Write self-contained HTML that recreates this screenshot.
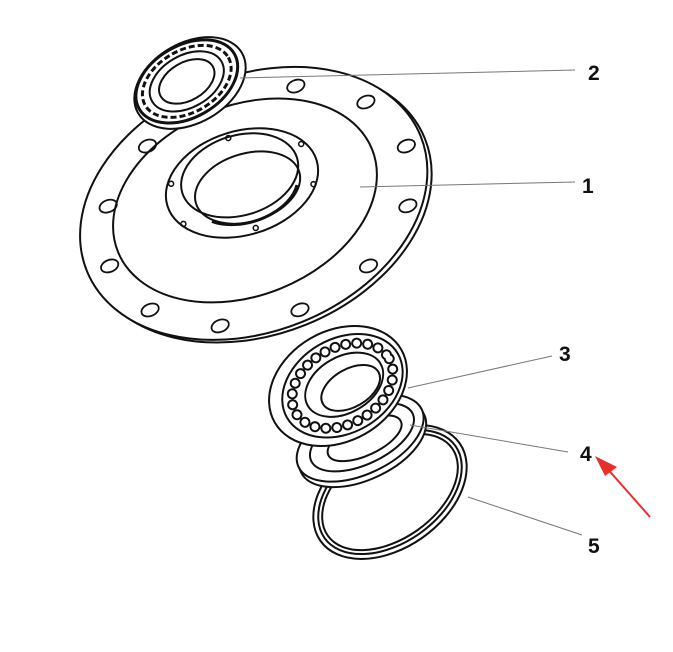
<!DOCTYPE html>
<html><head><style>
html,body{margin:0;padding:0;background:#fff;}
svg{display:block;}
text{font-family:"Liberation Sans",sans-serif;font-weight:bold;font-size:21px;fill:#111;}
</style></head><body>
<svg width="673" height="652" viewBox="0 0 673 652" xmlns="http://www.w3.org/2000/svg">
<g fill="none" stroke="#111" stroke-width="2">
 <!-- flange -->
 <g transform="translate(258,206) rotate(-22)">
  <ellipse cx="0" cy="0" rx="180" ry="128" fill="#fff"/>
  <ellipse cx="-3" cy="-4" rx="180" ry="128" fill="#fff"/>
  <ellipse cx="-10" cy="-10" rx="137" ry="95"/>
  <g stroke-width="1.8">
   <ellipse cx="160" cy="0" rx="9" ry="6"/><ellipse cx="139" cy="56" rx="9" ry="6"/>
   <ellipse cx="80" cy="97" rx="9" ry="6"/><ellipse cx="0" cy="112" rx="9" ry="6"/>
   <ellipse cx="-80" cy="97" rx="9" ry="6"/><ellipse cx="-139" cy="56" rx="9" ry="6"/>
   <ellipse cx="-160" cy="0" rx="9" ry="6"/><ellipse cx="-139" cy="-56" rx="9" ry="6"/>
   <ellipse cx="-80" cy="-97" rx="9" ry="6"/><ellipse cx="0" cy="-112" rx="9" ry="6"/>
   <ellipse cx="80" cy="-97" rx="9" ry="6"/><ellipse cx="139" cy="-56" rx="9" ry="6"/>
  </g>
 </g>
 <g transform="translate(242,183) rotate(-17)">
  <ellipse cx="0" cy="0" rx="78" ry="52"/>
  <ellipse cx="0" cy="-8" rx="60" ry="40"/>
  <ellipse cx="4" cy="6" rx="54" ry="34"/>
  <path d="M-40 28 A54 34 0 0 0 52 18" stroke-width="3"/>
  <g stroke-width="1.5">
   <circle cx="68" cy="-20" r="2.5"/><circle cx="68" cy="22" r="2.5"/>
   <circle cx="0" cy="47" r="2.5"/><circle cx="-68" cy="22" r="2.5"/>
   <circle cx="-68" cy="-20" r="2.5"/><circle cx="0" cy="-47" r="2.5"/>
  </g>
 </g>
 <!-- top seal -->
 <g transform="translate(190,83) rotate(-30)">
  <ellipse cx="0" cy="0" rx="60" ry="40" fill="#fff"/>
  <ellipse cx="-2" cy="-3" rx="55" ry="36" stroke-width="3"/>
  <ellipse cx="-2" cy="-3" rx="48" ry="31" stroke-dasharray="6 3" stroke-width="3"/>
  <ellipse cx="-2" cy="-3" rx="40" ry="26"/>
  <ellipse cx="-2" cy="-3" rx="30" ry="19"/>
 </g>
 <!-- ring 5 -->
 <g transform="translate(390,492) rotate(-35)">
  <ellipse cx="0" cy="0" rx="85" ry="56"/>
  <ellipse cx="0" cy="0" rx="80" ry="51"/>
  <ellipse cx="0" cy="0" rx="76" ry="47"/>
 </g>
 <!-- ring 4 -->
 <g transform="translate(361,440) rotate(-25)">
  <ellipse cx="0" cy="4" rx="68" ry="36" fill="#fff"/>
  <ellipse cx="0" cy="-2" rx="68" ry="36" fill="#fff"/>
  <ellipse cx="2" cy="-2" rx="56" ry="27"/>
  <ellipse cx="4" cy="0" rx="40" ry="17"/>
 </g>
 <!-- bearing 3 -->
 <g transform="translate(338,386) rotate(-30)">
  <ellipse cx="0" cy="0" rx="73" ry="55" fill="#fff"/>
  <ellipse cx="4" cy="2" rx="64" ry="47"/>
  <ellipse cx="4" cy="2" rx="54" ry="38" stroke-dasharray="0 11" stroke-linecap="round" stroke-width="11"/>
  <ellipse cx="4" cy="2" rx="54" ry="38" stroke="#fff" stroke-dasharray="0 11" stroke-linecap="round" stroke-width="7"/>
  <ellipse cx="6" cy="2" rx="42" ry="28" fill="#fff"/>
  <ellipse cx="10" cy="8" rx="32" ry="19"/>
 </g>
</g>
<!-- leader lines -->
<g stroke="#777" stroke-width="1">
 <line x1="240" y1="78" x2="575" y2="70"/>
 <line x1="360" y1="187" x2="575" y2="182"/>
 <line x1="408" y1="388" x2="552" y2="356"/>
 <line x1="410" y1="425" x2="568" y2="452"/>
 <line x1="468" y1="497" x2="582" y2="535"/>
</g>
<text x="588" y="80">2</text>
<text x="582" y="193">1</text>
<text x="559" y="361">3</text>
<text x="580" y="461">4</text>
<text x="588" y="553">5</text>
<!-- red arrow -->
<line x1="650" y1="517" x2="605" y2="466" stroke="#e8302a" stroke-width="2"/>
<polygon points="595,456 617,467 605,476" fill="#e8302a"/>
</svg>
</body></html>
